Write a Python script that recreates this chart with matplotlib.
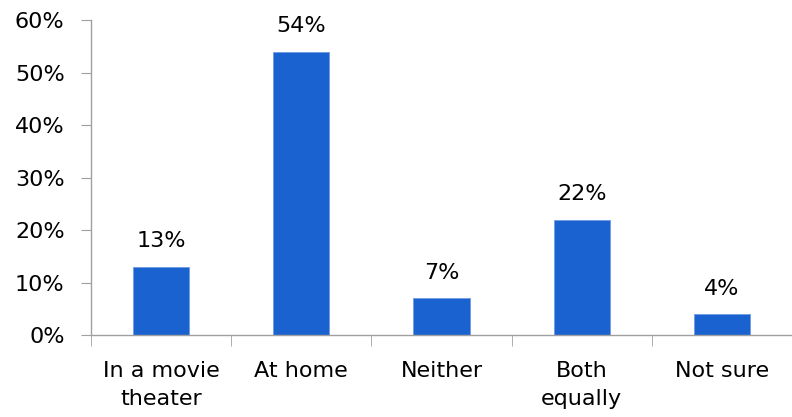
import matplotlib
matplotlib.use("Agg")
import matplotlib.pyplot as plt
import numpy as np

categories = ["In a movie\ntheater", "At home", "Neither", "Both\nequally", "Not sure"]
values = [13, 54, 7, 22, 4]

plt.rcParams['font.family'] = ['DejaVu Sans']

fig = plt.figure(figsize=(7.92, 4.17), dpi=100)
ax = fig.add_axes([0.1149, 0.1966, 0.8851, 0.7554])

x = np.arange(len(categories))
ax.bar(x, values, width=0.4, color="#1a62d0", edgecolor="#6f9be0", linewidth=0.6)

for xi, v in zip(x, values):
    ax.annotate(f"{v}%", (xi, v), xytext=(0, 11), textcoords="offset points",
                ha="center", va="bottom", fontsize=16)

ax.set_xlim(-0.5, len(categories) - 0.5)
ax.set_ylim(0, 60)
ax.set_yticks(np.arange(0, 61, 10))
ax.set_yticklabels([f"{t}%" for t in range(0, 61, 10)], fontsize=16)

# category labels centred, ticks at category boundaries
ax.set_xticks(x)
ax.set_xticklabels(categories, fontsize=16, linespacing=1.5)
ax.tick_params(axis="x", which="major", length=0, pad=19)
ax.set_xticks(np.arange(-0.5, len(categories), 1), minor=True)
ax.tick_params(axis="x", which="minor", length=8, color="#a0a0a0")
ax.tick_params(axis="y", length=7, color="#a0a0a0", pad=12)

for s in ["top", "right"]:
    ax.spines[s].set_visible(False)
for s in ["left", "bottom"]:
    ax.spines[s].set_color("#a0a0a0")
    ax.spines[s].set_linewidth(1.0)

fig.savefig("out.png", dpi=100)
